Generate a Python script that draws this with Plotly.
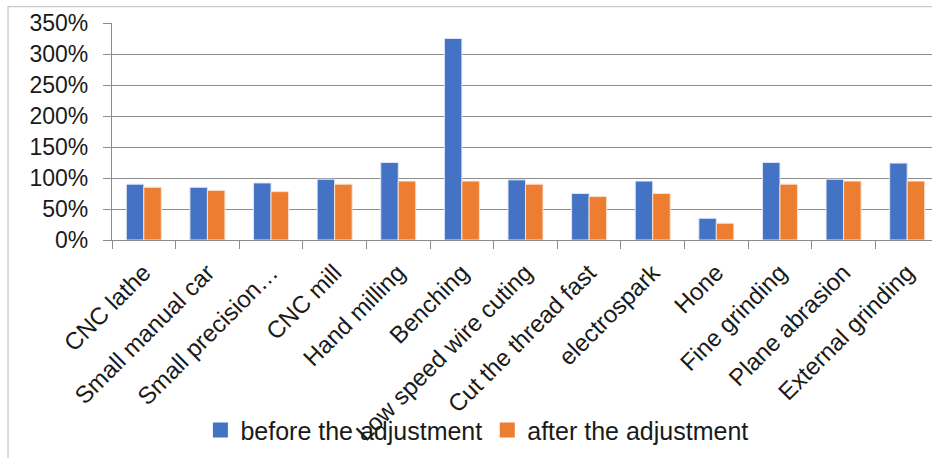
import plotly.graph_objects as go

categories = [
    "CNC lathe", "Small manual car", "Small precision…", "CNC mill",
    "Hand milling", "Benching", "Low speed wire cuting",
    "Cut the thread fast", "electrospark", "Hone", "Fine grinding",
    "Plane abrasion", "External grinding",
]
before_adj = [0.90, 0.85, 0.92, 0.98, 1.25, 3.25, 0.97, 0.75, 0.95, 0.35, 1.25, 0.98, 1.24]
after_adj = [0.85, 0.80, 0.78, 0.90, 0.95, 0.95, 0.90, 0.70, 0.75, 0.27, 0.90, 0.95, 0.95]
series_names = ["before the adjustment", "after the adjustment"]
series_colors = ["#4472C4", "#ED7D31"]
edge_colors = ["#dfe6f5", "#fbe0cc"]

FONT = "Liberation Sans"
TXT = "#1a1a1a"
GRID = "#8c8c8c"

fig = go.Figure()
for name, vals, col, edge in zip(series_names, [before_adj, after_adj], series_colors, edge_colors):
    fig.add_trace(go.Bar(
        x=categories, y=vals, name=name, legendgroup=name, showlegend=False,
        marker=dict(color=col, line=dict(color=edge, width=1)),
    ))
# legend keys drawn as larger square swatches
for name, col in zip(series_names, series_colors):
    fig.add_trace(go.Scatter(
        x=[None], y=[None], mode="markers", name=name, legendgroup=name,
        marker=dict(symbol="square", size=15, color=col),
    ))

fig.update_layout(
    width=932, height=458,
    margin=dict(l=112, r=0, t=23, b=218),
    paper_bgcolor="white", plot_bgcolor="white",
    barmode="group", bargap=0.45, bargroupgap=0,
    font=dict(family=FONT, size=23, color=TXT),
    showlegend=True,
    legend=dict(
        orientation="h", x=0.445, y=-0.877, xanchor="center", yanchor="middle",
        font=dict(family=FONT, size=25, color=TXT),
        bgcolor="rgba(0,0,0,0)", itemwidth=30,
    ),
    xaxis=dict(
        range=[-0.5, 12.39], tickangle=-45, tickson="boundaries",
        ticks="outside", ticklen=8, tickcolor=GRID, tickwidth=1.3,
        showline=True, linecolor=GRID, linewidth=1.3,
        showgrid=False, tickfont=dict(family=FONT, size=24, color=TXT),
        ticklabelstandoff=8, fixedrange=True,
    ),
    yaxis=dict(
        range=[0, 3.5], dtick=0.5, tickformat=".0%",
        showgrid=True, gridcolor=GRID, gridwidth=1.3,
        ticks="outside", ticklen=8, tickcolor=GRID, tickwidth=1.3,
        showline=True, linecolor=GRID, linewidth=1.3,
        zeroline=False, ticklabelstandoff=10,
        tickfont=dict(family=FONT, size=23, color=TXT),
        fixedrange=True,
    ),
    shapes=[dict(
        type="rect", xref="paper", yref="paper",
        x0=-0.1268, x1=1.02, y0=-1.05, y1=1.0752,
        line=dict(color="#c8c8c8", width=1.3), fillcolor="rgba(0,0,0,0)",
        layer="below",
    )],
)

fig.write_html("out.html", config={"displayModeBar": False})
